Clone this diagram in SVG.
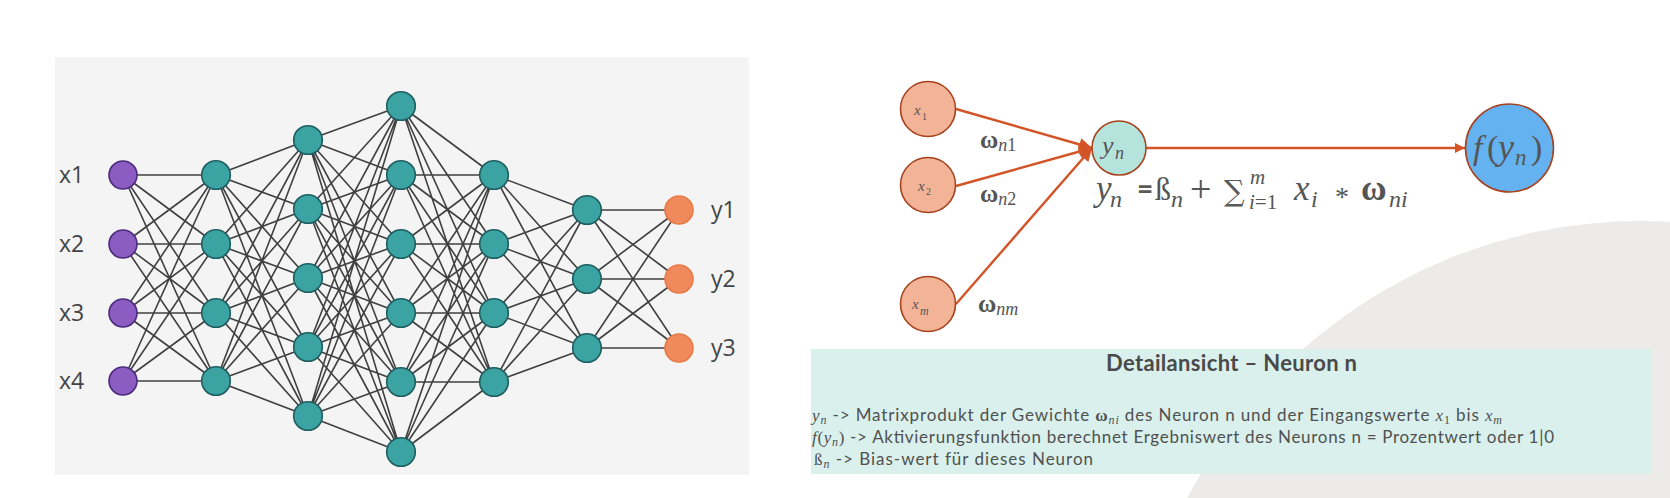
<svg xmlns="http://www.w3.org/2000/svg" width="1670" height="498" viewBox="0 0 1670 498">
<style>
.edge{fill:none;stroke:#404040;stroke-width:1.6}
.in{fill:#8b5cc2;stroke:#4b2b7d;stroke-width:1.6}
.hid{fill:#3ca3a3;stroke:#1f5e60;stroke-width:1.6}
.out{fill:#f08a5d;stroke:#e87a48;stroke-width:1.6}
.lbl{font-family:"Open Sans","Liberation Sans",sans-serif;font-size:23px;fill:#444444}
.arr{fill:none;stroke:#d35427;stroke-width:2.4}
.rn{stroke:#a8431f;stroke-width:1.6}
.m{font-family:"Liberation Serif","DejaVu Serif",serif;fill:#555555}
.mi{font-style:italic}
.mb{font-weight:bold}
.up{font-style:normal}
.body{font-family:Lato,"Liberation Sans",sans-serif;font-size:17px;fill:#505050}
.ms{font-family:"Liberation Serif","DejaVu Serif",serif;font-style:italic}
</style>
<defs>
<marker id="ah" viewBox="0 0 10 10" refX="10" refY="5" markerUnits="userSpaceOnUse" markerWidth="14" markerHeight="13" orient="auto">
<path d="M0,0L10,5L0,10z" fill="#d35427"/>
</marker>
<marker id="ah2" viewBox="0 0 10 10" refX="10" refY="5" markerUnits="userSpaceOnUse" markerWidth="12" markerHeight="10" orient="auto">
<path d="M0,0L10,5L0,10z" fill="#d35427"/>
</marker>
</defs>
<rect width="1670" height="498" fill="#ffffff"/>
<circle cx="1641" cy="731" r="510" fill="#ecebe9"/>
<rect x="55" y="57" width="694" height="418" fill="#f4f4f4"/>

<g id="connectors">
<path class="edge" d="M123 175L216 175M123 175L216 244M123 175L216 313M123 175L216 381M123 244L216 175M123 244L216 244M123 244L216 313M123 244L216 381M123 313L216 175M123 313L216 244M123 313L216 313M123 313L216 381M123 381L216 175M123 381L216 244M123 381L216 313M123 381L216 381"/>
<path class="edge" d="M216 175L308 140M216 175L308 209M216 175L308 278M216 175L308 347M216 175L308 416M216 244L308 140M216 244L308 209M216 244L308 278M216 244L308 347M216 244L308 416M216 313L308 140M216 313L308 209M216 313L308 278M216 313L308 347M216 313L308 416M216 381L308 140M216 381L308 209M216 381L308 278M216 381L308 347M216 381L308 416"/>
<path class="edge" d="M308 140L401 106M308 140L401 175M308 140L401 244M308 140L401 313M308 140L401 382M308 140L401 452M308 209L401 106M308 209L401 175M308 209L401 244M308 209L401 313M308 209L401 382M308 209L401 452M308 278L401 106M308 278L401 175M308 278L401 244M308 278L401 313M308 278L401 382M308 278L401 452M308 347L401 106M308 347L401 175M308 347L401 244M308 347L401 313M308 347L401 382M308 347L401 452M308 416L401 106M308 416L401 175M308 416L401 244M308 416L401 313M308 416L401 382M308 416L401 452"/>
<path class="edge" d="M401 106L494 175M401 106L494 244M401 106L494 313M401 106L494 382M401 175L494 175M401 175L494 244M401 175L494 313M401 175L494 382M401 244L494 175M401 244L494 244M401 244L494 313M401 244L494 382M401 313L494 175M401 313L494 244M401 313L494 313M401 313L494 382M401 382L494 175M401 382L494 244M401 382L494 313M401 382L494 382M401 452L494 175M401 452L494 244M401 452L494 313M401 452L494 382"/>
<path class="edge" d="M494 175L587 210M494 175L587 279M494 175L587 348M494 244L587 210M494 244L587 279M494 244L587 348M494 313L587 210M494 313L587 279M494 313L587 348M494 382L587 210M494 382L587 279M494 382L587 348"/>
<path class="edge" d="M587 210L679 210M587 210L679 279M587 210L679 348M587 279L679 210M587 279L679 279M587 279L679 348M587 348L679 210M587 348L679 279M587 348L679 348"/>
<line class="arr" x1="956" y1="109" x2="1092" y2="148" marker-end="url(#ah)"/>
<line class="arr" x1="956" y1="186" x2="1092" y2="148" marker-end="url(#ah)"/>
<line class="arr" x1="956" y1="304" x2="1092" y2="148" marker-end="url(#ah)"/>
<line class="arr" x1="1146" y1="148" x2="1465" y2="148" stroke-width="2.2" marker-end="url(#ah2)"/>
</g>

<g id="layer-input">
<g id="x1"><circle class="in" cx="123" cy="175" r="14"/><text class="lbl" x="59" y="183">x1</text></g>
<g id="x2"><circle class="in" cx="123" cy="244" r="14"/><text class="lbl" x="59" y="252">x2</text></g>
<g id="x3"><circle class="in" cx="123" cy="313" r="14"/><text class="lbl" x="59" y="321">x3</text></g>
<g id="x4"><circle class="in" cx="123" cy="381" r="14"/><text class="lbl" x="59" y="389">x4</text></g>
</g>
<g id="layer-h1">
<circle id="h1-1" class="hid" cx="216" cy="175" r="14.3"/>
<circle id="h1-2" class="hid" cx="216" cy="244" r="14.3"/>
<circle id="h1-3" class="hid" cx="216" cy="313" r="14.3"/>
<circle id="h1-4" class="hid" cx="216" cy="381" r="14.3"/>
</g>
<g id="layer-h2">
<circle id="h2-1" class="hid" cx="308" cy="140" r="14.3"/>
<circle id="h2-2" class="hid" cx="308" cy="209" r="14.3"/>
<circle id="h2-3" class="hid" cx="308" cy="278" r="14.3"/>
<circle id="h2-4" class="hid" cx="308" cy="347" r="14.3"/>
<circle id="h2-5" class="hid" cx="308" cy="416" r="14.3"/>
</g>
<g id="layer-h3">
<circle id="h3-1" class="hid" cx="401" cy="106" r="14.3"/>
<circle id="h3-2" class="hid" cx="401" cy="175" r="14.3"/>
<circle id="h3-3" class="hid" cx="401" cy="244" r="14.3"/>
<circle id="h3-4" class="hid" cx="401" cy="313" r="14.3"/>
<circle id="h3-5" class="hid" cx="401" cy="382" r="14.3"/>
<circle id="h3-6" class="hid" cx="401" cy="452" r="14.3"/>
</g>
<g id="layer-h4">
<circle id="h4-1" class="hid" cx="494" cy="175" r="14.3"/>
<circle id="h4-2" class="hid" cx="494" cy="244" r="14.3"/>
<circle id="h4-3" class="hid" cx="494" cy="313" r="14.3"/>
<circle id="h4-4" class="hid" cx="494" cy="382" r="14.3"/>
</g>
<g id="layer-h5">
<circle id="h5-1" class="hid" cx="587" cy="210" r="14.3"/>
<circle id="h5-2" class="hid" cx="587" cy="279" r="14.3"/>
<circle id="h5-3" class="hid" cx="587" cy="348" r="14.3"/>
</g>
<g id="layer-output">
<g id="y1"><circle class="out" cx="679" cy="210" r="14"/><text class="lbl" x="711" y="218">y1</text></g>
<g id="y2"><circle class="out" cx="679" cy="279" r="14"/><text class="lbl" x="711" y="287">y2</text></g>
<g id="y3"><circle class="out" cx="679" cy="348" r="14"/><text class="lbl" x="711" y="356">y3</text></g>
</g>

<g id="n-x1"><circle class="rn" cx="928" cy="109" r="27.5" fill="#f2b396"/>
<text class="m mi" x="914" y="115" font-size="15">x</text><text class="m" x="922" y="120" font-size="10">1</text></g>
<g id="n-x2"><circle class="rn" cx="928" cy="185" r="27.5" fill="#f2b396"/>
<text class="m mi" x="918" y="191" font-size="15">x</text><text class="m" x="926" y="195" font-size="10">2</text></g>
<g id="n-xm"><circle class="rn" cx="928" cy="304" r="27.5" fill="#f2b396"/>
<text class="m mi" x="912" y="309" font-size="15">x</text><text class="m mi" x="920" y="315" font-size="12">m</text></g>

<g id="w-labels">
<text class="m" x="980" y="148"><tspan class="mb" font-size="25">ω</tspan><tspan class="mi" font-size="18" dy="3">n</tspan><tspan font-size="18">1</tspan></text>
<text class="m" x="980" y="202"><tspan class="mb" font-size="25">ω</tspan><tspan class="mi" font-size="18" dy="3">n</tspan><tspan font-size="18">2</tspan></text>
<text class="m" x="978" y="312"><tspan class="mb" font-size="25">ω</tspan><tspan class="mi" font-size="18" dy="3">nm</tspan></text>
</g>

<g id="n-yn"><circle class="rn" cx="1119" cy="148" r="27" fill="#b4e4dc"/>
<text class="m mi" x="1102" y="154" font-size="26">y</text><text class="m mi" x="1115" y="159" font-size="18">n</text></g>

<g id="n-f"><circle class="rn" cx="1509.5" cy="148" r="44" fill="#64b2ef"/>
<text class="m mi" y="159" font-size="34"><tspan x="1473">f</tspan><tspan x="1487" class="up">(</tspan><tspan x="1498" font-size="36">y</tspan><tspan x="1515" y="165" font-size="23">n</tspan><tspan x="1531" y="159" class="up">)</tspan></text></g>

<g id="formula">
<text class="m mi" x="1096" y="200" font-size="35">y</text>
<text class="m mi" x="1110" y="207" font-size="24">n</text>
<text x="1137" y="199" font-size="28" font-family="Lato,'Liberation Sans',sans-serif" font-weight="bold" fill="#595959">=</text>
<text class="m" x="1155" y="200" font-size="32">ß</text>
<text class="m mi" x="1171" y="207" font-size="24">n</text>
<text class="m" x="1190" y="202" font-size="38">+</text>
<text x="1224" y="201" font-size="29" font-family="'DejaVu Serif',serif" fill="#595959">∑</text>
<text class="m mi" x="1250" y="184" font-size="21">m</text>
<text class="m" x="1249" y="209" font-size="21"><tspan font-style="italic">i</tspan>=1</text>
<text class="m mi" x="1294" y="200" font-size="35">x</text>
<text class="m mi" x="1311" y="207" font-size="24">i</text>
<text class="m" x="1335" y="206" font-size="28">*</text>
<text class="m mb" x="1361" y="200" font-size="35">ω</text>
<text class="m mi" x="1389" y="207" font-size="24">ni</text>
</g>

<g id="detail-box">
<rect x="811" y="349" width="841" height="125" fill="#d9f0ed"/>
<text x="1231.5" y="371" text-anchor="middle" font-family="Lato,'Liberation Sans',sans-serif" font-weight="bold" font-size="22" fill="#4a4a4a" textLength="251">Detailansicht – Neuron n</text>
<text class="body" x="812" y="421" textLength="690"><tspan class="ms" font-size="17">y</tspan><tspan class="ms" font-size="12" dy="3">n</tspan><tspan dy="-3"> -&gt; Matrixprodukt der Gewichte </tspan><tspan font-family="'Liberation Serif',serif" font-weight="bold">ω</tspan><tspan class="ms" font-size="12" dy="3">ni</tspan><tspan dy="-3"> des Neuron n und der Eingangswerte </tspan><tspan class="ms">x</tspan><tspan font-family="'Liberation Serif',serif" font-size="12" dy="3">1</tspan><tspan dy="-3"> bis </tspan><tspan class="ms">x</tspan><tspan class="ms" font-size="12" dy="3">m</tspan></text>
<text class="body" x="812" y="443" textLength="742"><tspan class="ms">f</tspan><tspan font-family="'Liberation Serif',serif">(</tspan><tspan class="ms">y</tspan><tspan class="ms" font-size="12" dy="3">n</tspan><tspan font-family="'Liberation Serif',serif" dy="-3">)</tspan><tspan> -&gt; Aktivierungsfunktion berechnet Ergebniswert des Neurons n = Prozentwert oder 1|0</tspan></text>
<text class="body" x="814" y="465" textLength="279"><tspan font-family="'Liberation Serif',serif">ß</tspan><tspan class="ms" font-size="12" dy="3">n</tspan><tspan dy="-3"> -&gt; Bias-wert für dieses Neuron</tspan></text>
</g>
</svg>
